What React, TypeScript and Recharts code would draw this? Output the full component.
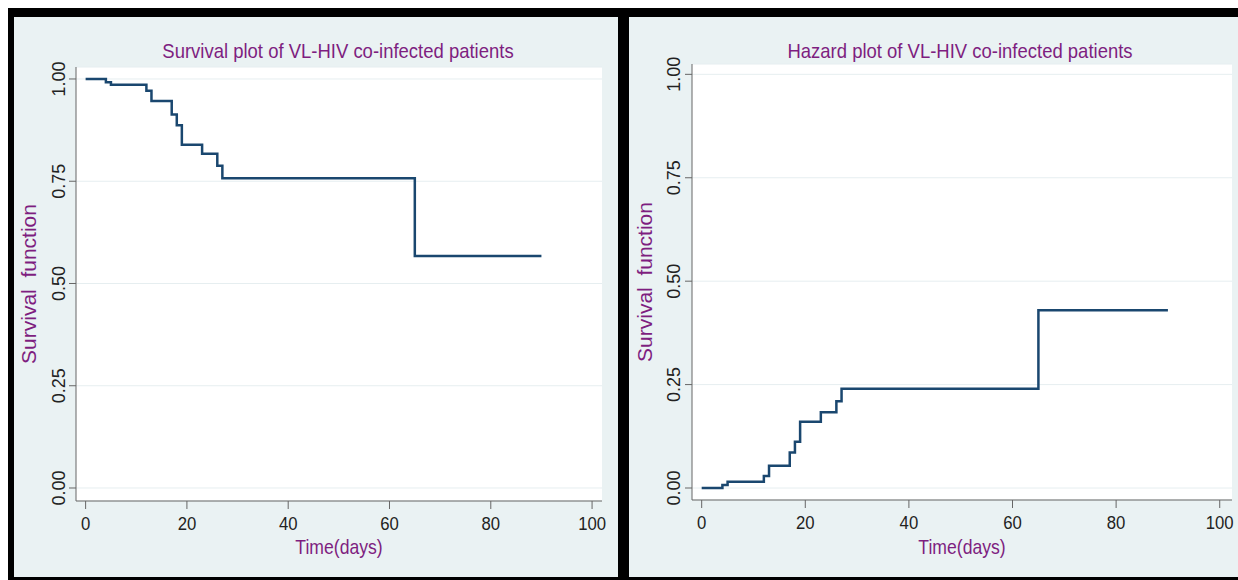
import React from "react";
import { LineChart, Line, XAxis, YAxis, CartesianGrid, Label } from "recharts";

const times = [0, 4, 5, 12, 13, 17, 18, 19, 23, 26, 27, 65, 90];
const survival = [1, 0.992, 0.986, 0.971, 0.946, 0.913, 0.887, 0.839, 0.817, 0.788, 0.757, 0.567, 0.567];
const hazard = [0, 0.007, 0.015, 0.029, 0.054, 0.086, 0.112, 0.16, 0.183, 0.21, 0.24, 0.43, 0.43];
const xTicks = [0, 20, 40, 60, 80, 100];
const yTicks = [0, 0.25, 0.5, 0.75, 1];
const titles = ["Survival plot of VL-HIV co-infected patients", "Hazard plot of VL-HIV co-infected patients"];
const xLabel = "Time(days)";
const yLabel = "Survival  function";

const survivalData = times.map((t, i) => ({ t, v: survival[i] }));
const hazardData = times.map((t, i) => ({ t, v: hazard[i] }));

const FONT = "'Liberation Sans', Arial, sans-serif";
const PURPLE = "#7E1E80";
const NAVY = "#1A476F";
const BG = "#EAF2F3";
const AXIS = "#666";
const SX = 0.88;

const YTick = (props: any) => {
  const { x, y, payload } = props;
  return (
    <text
      x={x}
      y={y}
      transform={`rotate(-90 ${x} ${y})`}
      textAnchor="middle"
      fontSize={18}
      fontFamily={FONT}
      fill="#222"
    >
      {Number(payload.value).toFixed(2)}
    </text>
  );
};

const XTick = (props: any) => {
  const { x, y, payload } = props;
  return (
    <text
      transform={`translate(${x} ${y}) scale(${SX} 1)`}
      x={0}
      y={0}
      dy="0.71em"
      textAnchor="middle"
      fontSize={19}
      fontFamily={FONT}
      fill="#222"
    >
      {payload.value}
    </text>
  );
};

const makeYLabel = (dx: number) => (props: any) => {
  const vb = props.viewBox || {};
  const cx = vb.x - dx;
  const cy = vb.y + vb.height / 2;
  return (
    <text
      x={cx}
      y={cy}
      transform={`rotate(-90 ${cx} ${cy})`}
      textAnchor="middle"
      dominantBaseline="central"
      fontSize={21}
      fontFamily={FONT}
      fill={PURPLE}
      style={{ whiteSpace: "pre" }}
    >
      {yLabel}
    </text>
  );
};

const makeXLabel = (top: number) => (props: any) => {
  const vb = props.viewBox || {};
  const cx = vb.x + vb.width / 2;
  const cy = vb.y + vb.height + top;
  return (
    <text
      transform={`translate(${cx} ${cy}) scale(${SX} 1)`}
      x={0}
      y={0}
      dy="0.71em"
      textAnchor="middle"
      fontSize={20}
      fontFamily={FONT}
      fill={PURPLE}
    >
      {xLabel}
    </text>
  );
};

type PanelProps = {
  data: { t: number; v: number }[];
  title: string;
  left: number;
  width: number;
  margin: { top: number; right: number; bottom: number; left: number };
  xDomain: [number, number];
  yDomain: [number, number];
  tickMarginY: number;
  xLabelOffset: number;
  yLabelDx: number;
  titleCenter: number;
};

const Panel = (p: PanelProps) => (
  <div style={{ position: "absolute", left: p.left, top: 17, width: p.width, height: 560, background: BG }}>
    <div
      style={{
        position: "absolute",
        left: p.titleCenter - 300,
        width: 600,
        top: 21,
        textAlign: "center",
        fontFamily: FONT,
        fontSize: 21,
        lineHeight: "26px",
        color: PURPLE,
        whiteSpace: "nowrap",
        transform: `scaleX(${SX})`,
        transformOrigin: "50% 50%",
      }}
    >
      {p.title}
    </div>
    <div style={{ position: "absolute", left: 0, top: 0 }}>
      <LineChart width={p.width} height={560} data={p.data} margin={p.margin}>
        <CartesianGrid vertical={false} horizontal={true} stroke="#E6EEF0" fill="#ffffff" />
        <XAxis
          dataKey="t"
          type="number"
          domain={p.xDomain}
          ticks={xTicks}
          allowDataOverflow
          height={30}
          tickSize={8}
          tickMargin={7}
          stroke={AXIS}
          tickLine={{ stroke: AXIS }}
          tick={<XTick />}
          label={<Label content={makeXLabel(p.xLabelOffset)} />}
        />
        <YAxis
          type="number"
          domain={p.yDomain}
          ticks={yTicks}
          allowDataOverflow
          width={40}
          tickSize={7}
          tickMargin={p.tickMarginY}
          stroke={AXIS}
          tickLine={{ stroke: AXIS }}
          tick={<YTick />}
          label={<Label content={makeYLabel(p.yLabelDx)} />}
        />
        <Line
          type="stepAfter"
          dataKey="v"
          stroke={NAVY}
          strokeWidth={2.5}
          dot={false}
          isAnimationActive={false}
        />
      </LineChart>
    </div>
  </div>
);

export default function App() {
  return (
    <div style={{ position: "absolute", left: 0, top: 0, width: 1238, height: 580, background: "#fff", overflow: "hidden" }}>
      <div style={{ position: "absolute", left: 8, top: 8, width: 1230, height: 572, background: "#000" }} />
      <Panel
        data={survivalData}
        title={titles[0]}
        left={14}
        width={604}
        margin={{ top: 50, right: 16, bottom: 46, left: 22 }}
        xDomain={[-1.9, 101.96]}
        yDomain={[-0.0318, 1.0293]}
        tickMarginY={4}
        xLabelOffset={9}
        yLabelDx={8}
        titleCenter={324}
      />
      <Panel
        data={hazardData}
        title={titles[1]}
        left={629}
        width={609}
        margin={{ top: 47, right: 6, bottom: 47, left: 23 }}
        xDomain={[-1.87, 102.37]}
        yDomain={[-0.029, 1.025]}
        tickMarginY={5}
        xLabelOffset={10}
        yLabelDx={8}
        titleCenter={331}
      />
    </div>
  );
}
